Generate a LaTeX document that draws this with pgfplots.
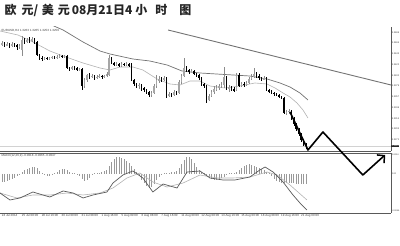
\documentclass[border=0pt]{standalone}
\usepackage{fontspec}
\setmainfont{Liberation Sans}
\newfontfamily\cjk{Noto Sans CJK SC}
\usepackage{pgfplots}
\usepackage{pgfplotstable}
\pgfplotsset{compat=1.18}
\usetikzlibrary{arrows.meta}

% EURUSD H4 bars: index, open, high, low, close
\pgfplotstableread{
i o h l c
0 1.3463 1.3469 1.3459 1.3465
1 1.3465 1.3467 1.3457 1.3461
2 1.3461 1.3467 1.3459 1.3463
3 1.3463 1.3465 1.3455 1.3459
4 1.3459 1.3467 1.3457 1.3463
5 1.3463 1.3465 1.3457 1.3461
6 1.3461 1.3463 1.3451 1.3457
7 1.3457 1.3463 1.3453 1.3459
8 1.3451 1.3479 1.3439 1.3471
9 1.3471 1.3475 1.3463 1.3467
10 1.3467 1.3475 1.3465 1.3471
11 1.3471 1.3477 1.3465 1.3469
12 1.3469 1.3477 1.3467 1.3473
13 1.3473 1.3475 1.3463 1.3467
14 1.3467 1.3469 1.3439 1.3441
15 1.3441 1.3443 1.3431 1.3435
16 1.3435 1.3439 1.3429 1.3433
17 1.3433 1.3437 1.3431 1.3435
18 1.3435 1.3437 1.3431 1.3433
19 1.3433 1.3437 1.3431 1.3435
20 1.3435 1.3439 1.3433 1.3437
21 1.3437 1.3439 1.3433 1.3435
22 1.3435 1.3441 1.3433 1.3437
23 1.3437 1.3443 1.3435 1.3439
24 1.3439 1.3441 1.3435 1.3437
25 1.3437 1.3441 1.3435 1.3439
26 1.3439 1.3441 1.3413 1.3415
27 1.3415 1.3417 1.3409 1.3413
28 1.3413 1.3419 1.3411 1.3417
29 1.3417 1.3419 1.3411 1.3415
30 1.3415 1.3417 1.3409 1.3411
31 1.3411 1.3415 1.3409 1.3413
32 1.3413 1.3415 1.3371 1.3379
33 1.3379 1.3395 1.3375 1.3391
34 1.3391 1.3403 1.3387 1.3401
35 1.3401 1.3405 1.3393 1.3397
36 1.3397 1.3403 1.3395 1.3399
37 1.3399 1.3401 1.3391 1.3395
38 1.3395 1.3401 1.3393 1.3397
39 1.3397 1.3403 1.3395 1.3399
40 1.3399 1.3401 1.3393 1.3397
41 1.3397 1.3401 1.3395 1.3399
42 1.3399 1.3407 1.3397 1.3403
43 1.3401 1.3441 1.3399 1.3435
44 1.3435 1.3437 1.3423 1.3425
45 1.3425 1.3427 1.3419 1.3421
46 1.3421 1.3427 1.3419 1.3423
47 1.3423 1.3425 1.3417 1.3419
48 1.3419 1.3427 1.3417 1.3423
49 1.3423 1.3425 1.3419 1.3421
50 1.3421 1.3427 1.3419 1.3423
51 1.3423 1.3425 1.3417 1.3419
52 1.3419 1.3425 1.3389 1.3391
53 1.3391 1.3393 1.3379 1.3383
54 1.3383 1.3385 1.3375 1.3379
55 1.3379 1.3385 1.3373 1.3381
56 1.3381 1.3383 1.3369 1.3375
57 1.3375 1.3377 1.3367 1.3371
58 1.3371 1.3373 1.3363 1.3367
59 1.3367 1.3369 1.3357 1.3361
60 1.3361 1.3369 1.3357 1.3365
61 1.3365 1.3383 1.3363 1.3379
62 1.3379 1.3401 1.3375 1.3391
63 1.3391 1.3399 1.3385 1.3393
64 1.3393 1.3397 1.3387 1.3391
65 1.3391 1.3399 1.3389 1.3395
66 1.3395 1.3397 1.3355 1.3359
67 1.3359 1.3367 1.3357 1.3363
68 1.3363 1.3365 1.3357 1.3361
69 1.3361 1.3371 1.3359 1.3367
70 1.3367 1.3369 1.3361 1.3365
71 1.3365 1.3391 1.3363 1.3387
72 1.3387 1.3403 1.3383 1.3399
73 1.3399 1.3435 1.3397 1.3415
74 1.3415 1.3419 1.3407 1.3411
75 1.3411 1.3413 1.3403 1.3407
76 1.3407 1.3413 1.3405 1.3409
77 1.3409 1.3411 1.3401 1.3403
78 1.3403 1.3405 1.3397 1.3401
79 1.3401 1.3403 1.3391 1.3395
80 1.3395 1.3397 1.3379 1.3383
81 1.3383 1.3385 1.3375 1.3379
82 1.3379 1.3381 1.3345 1.3351
83 1.3351 1.3363 1.3349 1.3359
84 1.3359 1.3371 1.3357 1.3367
85 1.3367 1.3379 1.3363 1.3373
86 1.3373 1.3381 1.3369 1.3375
87 1.3375 1.3383 1.3371 1.3379
88 1.3379 1.3387 1.3375 1.3381
89 1.3381 1.3417 1.3375 1.3397
90 1.3397 1.3399 1.3371 1.3373
91 1.3373 1.3381 1.3367 1.3377
92 1.3377 1.3379 1.3369 1.3373
93 1.3373 1.3377 1.3367 1.3371
94 1.3371 1.3405 1.3369 1.3401
95 1.3401 1.3405 1.3377 1.3379
96 1.3379 1.3387 1.3377 1.3383
97 1.3383 1.3387 1.3377 1.3381
98 1.3381 1.3389 1.3379 1.3385
99 1.3385 1.3397 1.3383 1.3393
100 1.3393 1.3403 1.3391 1.3397
101 1.3397 1.3415 1.3395 1.3403
102 1.3403 1.3407 1.3395 1.3399
103 1.3399 1.3403 1.3391 1.3395
104 1.3395 1.3397 1.3389 1.3393
105 1.3393 1.3399 1.3391 1.3395
106 1.3395 1.3397 1.3369 1.3371
107 1.3371 1.3373 1.3365 1.3369
108 1.3369 1.3371 1.3363 1.3365
109 1.3365 1.3367 1.3359 1.3363
110 1.3363 1.3365 1.3359 1.3361
111 1.3361 1.3363 1.3355 1.3357
112 1.3357 1.3359 1.3353 1.3355
113 1.3355 1.3357 1.3323 1.3325
114 1.3325 1.3331 1.3321 1.3327
115 1.3327 1.3333 1.3323 1.3329
116 1.3329 1.3331 1.3311 1.3315
117 1.3315 1.3317 1.3299 1.3303
118 1.3303 1.3305 1.3289 1.3293
119 1.3293 1.3295 1.3279 1.3283
120 1.3283 1.3285 1.3267 1.3271
121 1.3271 1.3273 1.3259 1.3263
122 1.3263 1.3265 1.3253 1.3259
}\candles

% MACD histogram, one value per bar
\pgfplotstableread{
i v
0 -0.00144
1 -0.00144
2 -0.00126
3 -0.00108
4 -0.0009
5 -0.00072
6 -0.00036
7 -0.00018
8 0.00036
9 0.00072
10 0.0009
11 0.00108
12 0.00126
13 0.00126
14 0.00108
15 0.00054
16 0.00018
17 -0.00018
18 -0.00036
19 -0.00036
20 -0.00018
21 0.00009
22 0.00036
23 0.00072
24 0.0009
25 0.0009
26 0.00072
27 0.00036
28 0.00018
29 0.00009
30 -0.00018
31 -0.00036
32 -0.0009
33 -0.00126
34 -0.00108
35 -0.00072
36 -0.00018
37 0.00009
38 0.00018
39 0.00018
40 0.00036
41 0.00054
42 0.00072
43 0.00144
44 0.00216
45 0.0027
46 0.00306
47 0.00306
48 0.00288
49 0.0027
50 0.00234
51 0.00198
52 0.00144
53 0.0009
54 0.00036
55 -0.00036
56 -0.00108
57 -0.00162
58 -0.00216
59 -0.00252
60 -0.00234
61 -0.0018
62 -0.00108
63 -0.00054
64 -0.00018
65 0.00009
66 0.00018
67 0.00018
68 0.00027
69 0.00036
70 0.00054
71 0.00108
72 0.0018
73 0.00252
74 0.00306
75 0.00306
76 0.0027
77 0.00198
78 0.00126
79 0.00072
80 0.00036
81 0.00018
82 -0.00018
83 -0.00054
84 -0.0009
85 -0.00108
86 -0.00108
87 -0.0009
88 -0.00072
89 -0.00054
90 -0.00018
91 0.00009
92 0.00018
93 0.00018
94 0.00036
95 0.00072
96 0.00108
97 0.00144
98 0.00162
99 0.0018
100 0.00162
101 0.00144
102 0.00126
103 0.00108
104 0.0009
105 0.00072
106 0.00036
107 0.00009
108 -0.00036
109 -0.0009
110 -0.00126
111 -0.00144
112 -0.00162
113 -0.00162
114 -0.00162
115 -0.00162
116 -0.00162
117 -0.00162
118 -0.0018
119 -0.0018
120 -0.0018
121 -0.0018
122 -0.0018
}\macdhist

\newcommand\tinyfont{\fontsize{3}{3.2}\selectfont}
\newcommand\scalefont{\fontsize{2.4}{2.6}\selectfont}

\pgfplotsset{
  panel/.style={
    scale only axis, anchor=south west, width=391pt,
    xmin=-0.8, xmax=156,
    axis line style={-, draw=black!65, line width=0.6pt},
    tick align=outside, major tick length=1pt,
    tick style={black!60, line width=0.3pt},
    tick label style={font=\tinyfont, text=black!75},
    yticklabel style={font=\scalefont, anchor=west, inner sep=0.2pt, xshift=-0.6pt},
    scaled y ticks=false,
  },
  % vertical strokes drawn as symmetric error bars around a centre value
  stroke/.style 2 args={draw=none, mark=none, forget plot,
    error bars/y dir=both, error bars/y explicit, error bars/error mark=none,
    error bars/error bar style={draw=#1, line width=#2}},
}

\begin{document}
\begin{tikzpicture}
\path[use as bounding box] (0pt,0pt) rectangle (400pt,246pt);

% title
\node[anchor=west, inner sep=0pt, text=black!85] at (4.5pt,236pt)
  {\cjk\bfseries\fontsize{12}{12}\selectfont 欧\hspace{5pt}元/\hspace{3.5pt}美\hspace{4pt}元\hspace{2pt}08月21日4\hspace{3pt}小\hspace{8pt}时\hspace{12pt}图};

% price window
\begin{axis}[panel, at={(0pt,95pt)}, height=124pt,
  ymin=1.3249, ymax=1.3497,
  axis x line*=bottom, axis y line*=right,
  xtick=\empty,
  ytick={1.3271,1.3293,1.3314,1.3336,1.3357,1.3379,1.3400,1.3422,1.3443,1.3465,1.3486},
  yticklabels={1.3271,1.3293,1.3314,1.3336,1.3357,1.3379,1.3400,1.3422,1.3443,1.3465,1.3486},
]
% bid line
\addplot[gray!35, line width=0.4pt, forget plot] coordinates {(-0.8,1.3259) (156,1.3259)};
% down-trend line
\addplot[black!55, line width=0.9pt] coordinates {(66.6,1.3491) (156,1.3381)};
% moving averages
\addplot[black!55, line width=0.7pt] coordinates {
(15.2,1.3511) (24.5,1.3491) (32.5,1.3467) (39.3,1.3449) (43.3,1.3443) (52.5,1.3433)
(59.3,1.3429) (66.2,1.3421) (72.2,1.3409) (79.4,1.3405) (92.6,1.3401) (99.4,1.3399)
(106.3,1.3393) (111.5,1.3385) (115.5,1.3377) (119.5,1.3365) (122.7,1.3351)};
\addplot[black!30, line width=0.6pt] coordinates {
(-0.8,1.3489) (6.4,1.3481) (12.4,1.3467) (19.2,1.3449) (24.5,1.3439) (32.5,1.3425)
(39.3,1.3415) (43.3,1.3411) (47.3,1.3417) (52.5,1.3417) (56.5,1.3411) (62.2,1.3393)
(67.4,1.3383) (71.4,1.3381) (75.4,1.3389) (79.4,1.3389) (83.4,1.3379) (89.4,1.3375)
(95.4,1.3379) (101.4,1.3385) (106.3,1.3383) (109.5,1.3375) (112.7,1.3365) (115.5,1.3357)
(118.3,1.3345) (120.7,1.3331) (122.7,1.3315)};
% rising bars
\addplot[restrict expr to domain={\thisrow{c}-\thisrow{o}}{0:1}, stroke={black!45}{0.45pt}]
  table[x=i, y expr={(\thisrow{h}+\thisrow{l})/2}, y error expr={(\thisrow{h}-\thisrow{l})/2}] {\candles};
\addplot[restrict expr to domain={\thisrow{c}-\thisrow{o}}{0:1}, stroke={black!35}{1.5pt}]
  table[x=i, y expr={(\thisrow{o}+\thisrow{c})/2}, y error expr={abs(\thisrow{c}-\thisrow{o})/2}] {\candles};
% falling bars
\addplot[restrict expr to domain={\thisrow{o}-\thisrow{c}}{0:1}, stroke={black}{0.45pt}]
  table[x=i, y expr={(\thisrow{h}+\thisrow{l})/2}, y error expr={(\thisrow{h}-\thisrow{l})/2}] {\candles};
\addplot[restrict expr to domain={\thisrow{o}-\thisrow{c}}{0:1}, stroke={black}{1.5pt}]
  table[x=i, y expr={(\thisrow{o}+\thisrow{c})/2}, y error expr={abs(\thisrow{c}-\thisrow{o})/2}] {\candles};
\end{axis}

% MACD window
\begin{axis}[panel, at={(0pt,33pt)}, height=60pt,
  ymin=-0.00702, ymax=0.00378,
  axis x line*=box, axis y line*=right,
  xtick={0,8,...,120}, xtick pos=lower,
  xticklabels={24 Jul 2014,25 Jul 08:00,28 Jul 16:00,30 Jul 00:00,31 Jul 08:00,1 Aug 16:00,5 Aug 00:00,6 Aug 08:00,7 Aug 16:00,11 Aug 00:00,12 Aug 08:00,13 Aug 16:00,15 Aug 00:00,18 Aug 08:00,19 Aug 16:00,21 Aug 00:00},
  xticklabel style={anchor=north west, inner sep=0.5pt, xshift=-0.8pt},
  ytick={-0.0066,0,0.0034},
  yticklabels={-0.0066,0.00,0.0034},
  yticklabel style={font=\fontsize{2.2}{2.4}\selectfont},
]
\addplot[ycomb, black!40, line width=0.5pt, mark=none] table[x=i, y=v] {\macdhist};
\addplot[black!30, line width=0.6pt] coordinates {
(-0.8,-0.00342) (6,-0.00432) (12.4,-0.00378) (19.2,-0.00378) (26.1,-0.00342) (32.5,-0.00378)
(39.3,-0.00342) (44.5,-0.00252) (50.1,-0.00072) (55.3,0.00018) (60.5,-0.00144) (66.2,-0.00234)
(72.6,-0.00162) (79.4,-0.00018) (86.2,-0.00072) (92.6,-0.00072) (99.4,-0.00054) (106.3,0.00036)
(110.3,-0.00018) (115.5,-0.00198) (122.3,-0.00468)};
\addplot[black!65, line width=0.7pt] coordinates {
(-0.8,-0.00342) (3.2,-0.00468) (7.2,-0.00432) (12.4,-0.00324) (16.4,-0.00378) (19.2,-0.00414)
(24.5,-0.00306) (28.5,-0.00342) (32.5,-0.00432) (36.5,-0.00378) (42.1,-0.00324) (44.5,-0.00162)
(48.5,-0.00018) (52.5,0.00054) (56.5,-0.00072) (60.5,-0.00324) (64.6,-0.0018) (70.2,-0.00252)
(74.2,0.00036) (79.4,0.00054) (83.4,-0.00072) (88.6,-0.00108) (93.4,-0.00108) (99.4,-0.00054)
(103.4,0.00072) (105.5,0.00126) (108.7,0.00036) (112.7,-0.00144) (116.7,-0.00378) (119.5,-0.00522)
(122.3,-0.00648)};
\end{axis}

% forecast path and last-price marker, drawn over both windows
\begin{axis}[panel, at={(0pt,95pt)}, height=124pt,
  ymin=1.3249, ymax=1.3497, hide axis, clip=false]
\addplot[black, line width=1.6pt, line join=round,
  -{Straight Barb[length=5pt, width=11pt, line width=1.5pt]}]
  coordinates {(115.5,1.3327) (122.7,1.3251) (128.7,1.3287) (144.7,1.3201) (153.6,1.3241)};
\node[anchor=west, fill=black!85, text=white, font=\scalefont, inner sep=0.3pt]
  at (axis cs:156,1.3259) {1.3259};
\end{axis}

% window captions
\node[anchor=west, inner sep=0pt, font=\tinyfont, text=black!75] at (1.5pt,215.5pt)
  {EURUSD,H4 1.3263 1.3265 1.3253 1.3259};
\node[anchor=west, inner sep=0pt, font=\tinyfont, text=black!75] at (1.5pt,90.5pt)
  {MACD(12,26,9) -0.0018 -0.0065 -0.0047};
\end{tikzpicture}
\end{document}
